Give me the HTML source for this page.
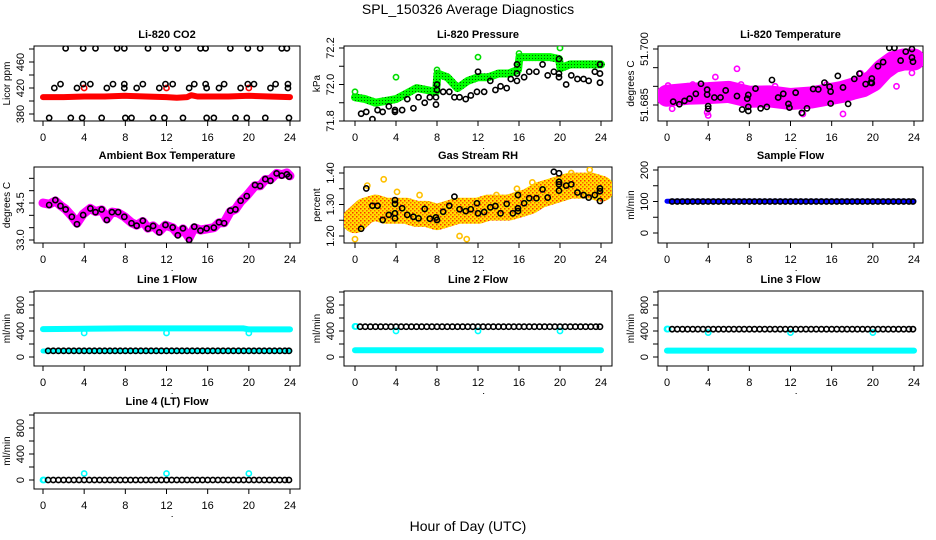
<!DOCTYPE html>
<html><head><meta charset="utf-8"><style>
html,body{margin:0;padding:0;background:#fff;}
svg{display:block;font-family:"Liberation Sans",Arial,sans-serif;}
</style></head><body>
<svg id="chart" width="936" height="540" viewBox="0 0 936 540" xmlns="http://www.w3.org/2000/svg">
<defs>
<pattern id="greenDots" width="3" height="3" patternUnits="userSpaceOnUse"><rect width="3" height="3" fill="#00ff00"/><rect x="1" y="1" width="1" height="1" fill="#006000"/></pattern>
<pattern id="rhDots" width="4" height="4" patternUnits="userSpaceOnUse"><rect width="4" height="4" fill="#ffe000"/><rect x="0" y="0" width="1.5" height="1.5" fill="#ff3000"/><rect x="2" y="2" width="1.5" height="1.5" fill="#ff6000"/></pattern>
</defs>
<text x="468" y="14" font-size="14" text-anchor="middle">SPL_150326  Average Diagnostics</text>
<text x="468" y="531" font-size="14" text-anchor="middle">Hour of Day (UTC)</text>
</svg>
<script>
// ---------- data ----------
const xTicks = [0,4,8,12,16,20,24];
// Li-820 CO2
const co2BlackX = [2.2,3.9,5.1,7.2,7.9,10.2,11.9,13.1,15.3,15.8,18.2,19.9,21.1,23.2,23.7,
 1.1,1.7,3.3,3.9,4.6,6.2,6.8,7.9,7.9,9.1,9.7,11.3,11.9,12.6,14.2,14.7,15.8,15.9,17.1,17.6,19.2,19.9,20.5,22.1,22.6,23.8,23.8,
 0.6,2.7,3.8,5.7,8.0,8.6,10.7,11.8,13.6,15.9,16.6,18.7,19.8,21.6,23.9];
const co2BlackY = [481,481,481,481,481,481,481,481,481,481,481,481,481,481,481,
 420,426,420,426,426,420,426,426,420,420,426,420,426,426,420,426,426,420,420,426,420,426,426,420,426,426,420,
 374,374,374,374,374,374,374,374,374,374,374,374,374,374,374];
const co2RedX = [0,2,4,6,8,10,12,13,14,14.4,15,16,18,20,22,24];
const co2RedY = [406,406,407,407,408,407,406,405,406,409,407,407,407,408,407,406];
// Li-820 Pressure
const presBlackX = [0.6,1.1,1.7,2.2,2.7,3.3,3.9,3.9,4.6,5.1,5.7,6.2,6.8,7.3,7.9,7.9,8.0,8.0,8.6,9.2,9.7,10.2,10.8,11.3,11.9,12.0,12.6,13.2,13.7,14.2,14.8,15.2,15.8,15.8,15.8,16.5,17.0,17.7,18.3,18.8,19.4,19.9,19.9,19.9,20.6,21.1,21.7,22.3,22.8,23.4,23.9,23.9,23.9];
const presBlackY = [71.84,71.85,71.81,71.86,71.85,71.88,71.86,71.85,71.86,71.92,71.87,71.93,71.90,71.93,71.93,71.89,72.00,71.97,71.96,71.96,71.93,71.93,71.92,71.94,71.96,72.07,71.96,72.02,71.97,71.99,71.98,72.03,72.02,72.06,72.11,72.04,72.07,72.07,72.11,72.05,72.07,72.06,72.04,72.14,72.00,72.05,72.03,72.03,72.02,72.07,72.06,72.01,72.11];
const presGreenX = [0,1,2,3,4,5,6,7,7.9,8.05,9,10,11,12,13,14,15,15.9,16.05,17,18,19,19.9,20.05,21,22,23,24];
const presGreenY = [71.93,71.92,71.90,71.91,71.92,71.95,71.98,71.97,71.96,72.06,72.04,71.98,72.02,72.04,72.04,72.06,72.06,72.08,72.15,72.15,72.15,72.15,72.14,72.09,72.11,72.11,72.11,72.11];
const presOutX = [0,4,8,12,16,20];
const presOutY = [71.96,72.04,72.08,72.15,72.17,72.2];
// Li-820 Temperature
const tempBlackX = [0.6,1.2,1.7,2.2,2.8,3.3,3.9,3.9,4.0,4.0,4.6,5.2,5.7,6.8,7.3,7.8,7.9,7.9,7.9,8.6,9.1,9.7,10.2,10.8,11.3,11.8,11.9,12.5,13.1,13.6,14.2,14.7,15.3,15.8,15.9,15.9,16.6,17.1,17.6,18.2,18.7,19.3,19.8,19.9,19.9,20.5,21.0,21.6,22.1,22.7,23.2,23.8,23.8,23.9];
const tempBlackY = [51.6859,51.6852,51.6861,51.6867,51.6880,51.6907,51.6891,51.6878,51.6847,51.6840,51.6870,51.6870,51.6889,51.6874,51.6838,51.6867,51.6877,51.6845,51.6834,51.6894,51.6841,51.6845,51.6917,51.6870,51.6880,51.6853,51.6843,51.6883,51.6829,51.6841,51.6893,51.6892,51.6910,51.6899,51.6886,51.6854,51.6928,51.6897,51.6853,51.6920,51.6934,51.6906,51.6910,51.6921,51.6909,51.6954,51.6965,51.7003,51.7003,51.6969,51.6993,51.7000,51.6977,51.6966];
const tempPinkX = [0,2,4,6,8,10,12,14,16,17,18,19,20,21,22,23,24];
const tempPinkY = [51.6875,51.6880,51.6882,51.6885,51.6872,51.6873,51.6866,51.6870,51.6880,51.6885,51.6893,51.6900,51.6915,51.6945,51.6965,51.6972,51.6972];
const tempOutX = [0.1,3.9,4.0,6.8,7.2,13.2,17.1,23.8,22.3,4.7,10.5,2.5,15.5,18.8,0.5];
const tempOutY = [51.6902,51.6830,51.6822,51.6947,51.6905,51.6826,51.6826,51.6936,51.6900,51.6925,51.6900,51.6905,51.6905,51.6935,51.6840];
// Ambient Box Temperature
const ambX = [0.6,1.2,1.7,2.2,2.8,3.3,3.9,4.6,5.1,5.7,6.2,6.7,7.3,7.9,8.6,9.1,9.7,10.2,10.7,11.3,11.9,12.6,13.1,13.6,14.2,14.7,15.3,15.9,16.6,17.1,17.6,18.2,18.7,19.2,19.8,20.6,21.1,21.6,22.1,22.7,23.2,23.7,23.9];
const ambY = [34.42,34.62,34.38,34.24,33.94,33.64,34.01,34.28,34.13,34.24,33.81,34.13,34.13,33.94,33.68,33.58,33.78,33.46,33.57,33.31,33.61,33.51,33.19,33.47,33.00,33.54,33.38,33.47,33.50,33.72,33.68,34.19,34.24,34.59,34.78,35.23,35.19,35.47,35.40,35.70,35.61,35.66,35.57];
const ambMagX = [0,0.6,1.2,1.7,2.2,2.8,3.3,3.9,4.6,5.1,5.7,6.2,6.7,7.3,7.9,8.6,9.1,9.7,10.2,10.7,11.3,11.9,12.6,13.1,13.6,14.2,14.7,15.3,15.9,16.6,17.1,17.6,18.2,18.7,19.2,19.8,20.6,21.1,21.6,22.1,22.7,23.2,23.7,24];
const ambMagY = [34.5,34.45,34.58,34.4,34.25,33.97,33.68,34.05,34.28,34.15,34.22,33.85,34.13,34.1,33.95,33.7,33.6,33.75,33.48,33.57,33.35,33.6,33.5,33.25,33.45,33.08,33.5,33.4,33.45,33.5,33.7,33.7,34.15,34.25,34.55,34.8,35.2,35.2,35.45,35.45,35.7,35.65,35.72,35.6];
// Gas Stream RH
const rhBlackX = [0.6,1.1,1.7,2.2,2.7,3.3,3.9,3.9,3.9,3.9,4.6,5.1,5.7,6.2,6.8,7.3,7.9,8.0,8.6,9.2,9.7,10.2,10.8,11.3,11.9,12.0,12.6,13.2,13.7,14.2,14.8,15.4,15.9,15.9,15.9,16.5,17.0,17.7,18.3,18.8,19.4,19.9,19.9,19.9,19.9,20.6,21.1,21.7,22.3,22.8,23.4,23.9,23.9,23.9];
const rhBlackY = [1.223,1.351,1.296,1.296,1.251,1.267,1.314,1.302,1.272,1.256,1.288,1.267,1.261,1.256,1.286,1.255,1.259,1.251,1.277,1.296,1.325,1.285,1.279,1.285,1.304,1.272,1.276,1.291,1.295,1.272,1.302,1.272,1.330,1.288,1.279,1.304,1.320,1.320,1.348,1.322,1.404,1.399,1.372,1.364,1.344,1.360,1.364,1.338,1.330,1.322,1.330,1.351,1.342,1.311];
const rhCloudX = [0,1,2,3,4,5,6,7,8,9,10,11,12,13,14,15,16,17,18,19,20,21,22,23,24];
const rhCloudY = [1.25,1.28,1.29,1.28,1.28,1.28,1.27,1.27,1.26,1.27,1.28,1.28,1.28,1.29,1.29,1.29,1.30,1.31,1.33,1.34,1.35,1.36,1.36,1.36,1.35];
const rhOutX = [0,1.2,2.8,4.1,6.3,10.2,10.9,13.8,15.8,17.3,21.1,22.9];
const rhOutY = [1.19,1.36,1.38,1.34,1.33,1.2,1.19,1.33,1.35,1.37,1.40,1.41];
// flows
const halfHours = [0.5,1,1.5,2,2.5,3,3.5,4,4.5,5,5.5,6,6.5,7,7.5,8,8.5,9,9.5,10,10.5,11,11.5,12,12.5,13,13.5,14,14.5,15,15.5,16,16.5,17,17.5,18,18.5,19,19.5,20,20.5,21,21.5,22,22.5,23,23.5,23.9];
const sampleBlack = [100,100,100,100,100,100,100,100,100,100,100,100,100,100,100,100,100,100,100,100,100,100,100,100,100,100,100,100,100,100,100,100,100,100,100,100,100,100,100,100,100,100,100,100,100,100,100,100];
const sampleBlueX = [0,24];
const sampleBlueY = [101,101];
const line1Black = [95,95,95,95,95,95,95,95,95,95,95,95,95,95,95,95,95,95,95,95,95,95,95,95,95,95,95,95,95,95,95,95,95,95,95,95,95,95,95,95,95,95,95,95,95,95,95,95];
const line1CyanX = [0,4,8,12,16,19.5,20,24];
const line1CyanY = [430,435,440,440,440,440,425,425];
const line1LowX = [0,24];
const line1LowY = [92,92];
const line2Black = [466,466,466,466,466,466,466,466,466,466,466,466,466,466,466,466,466,466,466,466,466,466,466,466,466,466,466,466,466,466,466,466,466,466,466,466,466,466,466,466,466,466,466,466,466,466,466,466];
const line2CyanX = [0,24];
const line2CyanY = [105,105];
const line3Black = [428,428,428,428,428,428,428,428,428,428,428,428,428,428,428,428,428,428,428,428,428,428,428,428,428,428,428,428,428,428,428,428,428,428,428,428,428,428,428,428,428,428,428,428,428,428,428,428];
const line3CyanX = [0,24];
const line3CyanY = [98,98];
const line4Black = [0,0,0,0,0,0,0,0,0,0,0,0,0,0,0,0,0,0,0,0,0,0,0,0,0,0,0,0,0,0,0,0,0,0,0,0,0,0,0,0,0,0,0,0,0,0,0,0];
const dipX = [4,12,20];
const line1DipY = [370,370,370];
const line2DipY = [400,400,400];
const line3DipY = [375,375,375];
const line4DipY = [100,100,100];
const startX = [0,0.1];
const line2StartY = [470,470];
const line3StartY = [430,430];
const line4StartY = [0,0];

// ---------- drawing ----------
const NS = 'http://www.w3.org/2000/svg';
const svg = document.getElementById('chart');
function mk(tag, attrs, parent){
  const e = document.createElementNS(NS, tag);
  for (const k in attrs) e.setAttribute(k, attrs[k]);
  (parent||svg).appendChild(e);
  return e;
}
const cols = [{L:34,R:300,x0:43,x24:290},{L:344,R:612,x0:355,x24:601},{L:658,R:923,x0:667,x24:914}];
const rows = [{T:46,B:121},{T:167,B:243},{T:291,B:366},{T:413,B:489}];

function panel(name, c, r, title, ylab, yv0, yp0, yv1, yp1, ticks, labels){
  const col = cols[c], row = rows[r];
  const g = mk('g', {});
  
  
  const sx = h => col.x0 + h*(col.x24-col.x0)/24;
  const sy = v => yp0 + (v-yv0)*(yp1-yp0)/(yv1-yv0);
  const t = mk('text', {x:(col.L+col.R)/2, y:row.T-8, 'font-size':11, 'font-weight':'bold', 'text-anchor':'middle'}, g);
  t.textContent = title;
  
  
  const box = mk('rect', {x:col.L, y:row.T, width:col.R-col.L, height:row.B-row.T, fill:'none', stroke:'#000', 'stroke-width':1}, g);
  
  
  const xa = mk('g', {}, g);
  
  
  mk('line', {x1:sx(0), x2:sx(24), y1:row.B, y2:row.B, stroke:'#000'}, xa);
  xTicks.forEach(h => {
    mk('line', {x1:sx(h), x2:sx(h), y1:row.B, y2:row.B+5, stroke:'#000'}, xa);
    const tl = mk('text', {x:sx(h), y:row.B+20, 'font-size':11, 'text-anchor':'middle'}, xa);
    tl.textContent = h;
  });
  mk('rect', {x:sx(12.5), y:row.B+27, width:1, height:1, fill:'#000'}, xa);
  const ya = mk('g', {}, g);
  
  
  const ypix = ticks.map(sy);
  mk('line', {x1:col.L, x2:col.L, y1:Math.min(...ypix), y2:Math.max(...ypix), stroke:'#000'}, ya);
  ticks.forEach((v,i) => {
    const y = sy(v);
    mk('line', {x1:col.L-5, x2:col.L, y1:y, y2:y, stroke:'#000'}, ya);
    if (labels[i] !== '') {
      const tl = mk('text', {x:col.L-10, y:y, 'font-size':11, 'text-anchor':'middle', transform:`rotate(-90 ${col.L-10} ${y})`}, ya);
      tl.textContent = labels[i];
    }
  });
  const yl = mk('text', {x:col.L-24, y:(row.T+row.B)/2, 'font-size':10, 'text-anchor':'middle', transform:`rotate(-90 ${col.L-24} ${(row.T+row.B)/2})`}, g);
  yl.textContent = ylab;
  
  
  const clip = 'clip-' + name;
  const cp = mk('clipPath', {id:clip}, g);
  mk('rect', {x:col.L, y:row.T, width:col.R-col.L, height:row.B-row.T}, cp);
  const plot = mk('g', {'clip-path':`url(#${clip})`}, g);
  return {g:plot, sx, sy};
}
function band(p, xs, ys, color, w, sname){
  const pts = xs.map((x,i) => p.sx(x).toFixed(1)+','+p.sy(ys[i]).toFixed(1)).join(' ');
  const pl = mk('polyline', {points:pts, fill:'none', stroke:color, 'stroke-width':w, 'stroke-linejoin':'round', 'stroke-linecap':'round'}, p.g);
  
  
}
function pts(p, xs, ys, color, sname, r, sw){
  const g = mk('g', {}, p.g);
  
  
  xs.forEach((x,i) => {
    mk('circle', {cx:p.sx(x), cy:p.sy(ys[i]), r:r||2.6, fill:'none', stroke:color, 'stroke-width':sw||1.6}, g);
  });
}

let p;
p = panel('co2', 0, 0, 'Li-820 CO2', 'Licor ppm', 380, 114, 460, 62, [380,400,420,440,460,480], ['380','','420','','460','']);
band(p, co2RedX, co2RedY, '#ff0000', 6, 'co2-red-series');
pts(p, [4,12,20], [420,420,420], '#ff0000', 'co2-red-outliers');
pts(p, co2BlackX, co2BlackY, '#000', 'co2-black-points');

p = panel('pressure', 1, 0, 'Li-820 Pressure', 'kPa', 71.8, 121, 72.2, 48, [71.8,71.9,72.0,72.1,72.2], ['71.8','','72.0','','72.2']);
band(p, presGreenX, presGreenY, 'url(#greenDots)', 8, 'pressure-green-series');
pts(p, presOutX, presOutY, '#00dd00', 'pressure-green-outliers');
pts(p, presBlackX, presBlackY, '#000', 'pressure-black-points');

p = panel('li820-temp', 2, 0, 'Li-820 Temperature', 'degrees C', 51.685, 105, 51.700, 49, [51.685,51.690,51.695,51.700], ['51.685','','','51.700']);
band(p, tempPinkX, tempPinkY, '#ff00ff', 22, 'temp-pink-series');
pts(p, tempOutX, tempOutY, '#ff00ff', 'temp-pink-outliers');
pts(p, tempBlackX, tempBlackY, '#000', 'temp-black-points');

p = panel('ambient', 0, 1, 'Ambient Box Temperature', 'degrees C', 33.0, 240, 34.5, 203, [33.0,33.5,34.0,34.5,35.0,35.5], ['33.0','','','34.5','','']);
band(p, ambMagX, ambMagY, '#ff00ff', 9, 'ambient-magenta-series');
pts(p, ambX, ambY, '#000', 'ambient-black-points');

p = panel('rh', 1, 1, 'Gas Stream RH', 'percent', 1.20, 236, 1.40, 173, [1.20,1.25,1.30,1.35,1.40], ['1.20','','1.30','','1.40']);
band(p, rhCloudX, rhCloudY, 'url(#rhDots)', 26, 'rh-orange-series');
pts(p, rhOutX, rhOutY, '#ffc000', 'rh-orange-outliers');
pts(p, rhBlackX, rhBlackY, '#000', 'rh-black-points');

p = panel('sample-flow', 2, 1, 'Sample Flow', 'ml/min', 0, 233, 200, 170, [0,50,100,150,200], ['0','','100','','200']);
band(p, sampleBlueX, sampleBlueY, '#0000ff', 5, 'sample-blue-series');
pts(p, halfHours, sampleBlack, '#000', 'sample-black-points');

const fT = [0,200,400,600,800,1000], fL = ['0','','400','','800',''];
p = panel('line1', 0, 2, 'Line 1 Flow', 'ml/min', 0, 357, 800, 305, fT, fL);
band(p, line1CyanX, line1CyanY, '#00ffff', 6, 'line1-cyan-series');
band(p, line1LowX, line1LowY, '#00ffff', 5, 'line1-cyan-low-series');
pts(p, dipX, line1DipY, '#00ffff', 'line1-cyan-dips');
pts(p, halfHours, line1Black, '#000', 'line1-black-points');

p = panel('line2', 1, 2, 'Line 2 Flow', 'ml/min', 0, 357, 800, 305, fT, fL);
band(p, line2CyanX, line2CyanY, '#00ffff', 6, 'line2-cyan-series');
pts(p, startX, line2StartY, '#00ffff', 'line2-cyan-start');
pts(p, dipX, line2DipY, '#00ffff', 'line2-cyan-dips');
pts(p, halfHours, line2Black, '#000', 'line2-black-points');

p = panel('line3', 2, 2, 'Line 3 Flow', 'ml/min', 0, 357, 800, 305, fT, fL);
band(p, line3CyanX, line3CyanY, '#00ffff', 6, 'line3-cyan-series');
pts(p, startX, line3StartY, '#00ffff', 'line3-cyan-start');
pts(p, dipX, line3DipY, '#00ffff', 'line3-cyan-dips');
pts(p, halfHours, line3Black, '#000', 'line3-black-points');

p = panel('line4', 0, 3, 'Line 4 (LT) Flow', 'ml/min', 0, 480, 800, 428, fT, fL);
pts(p, startX, line4StartY, '#00ffff', 'line4-cyan-start');
pts(p, dipX, line4DipY, '#00ffff', 'line4-cyan-dips');
pts(p, halfHours, line4Black, '#000', 'line4-black-points');
</script>
</body></html>
